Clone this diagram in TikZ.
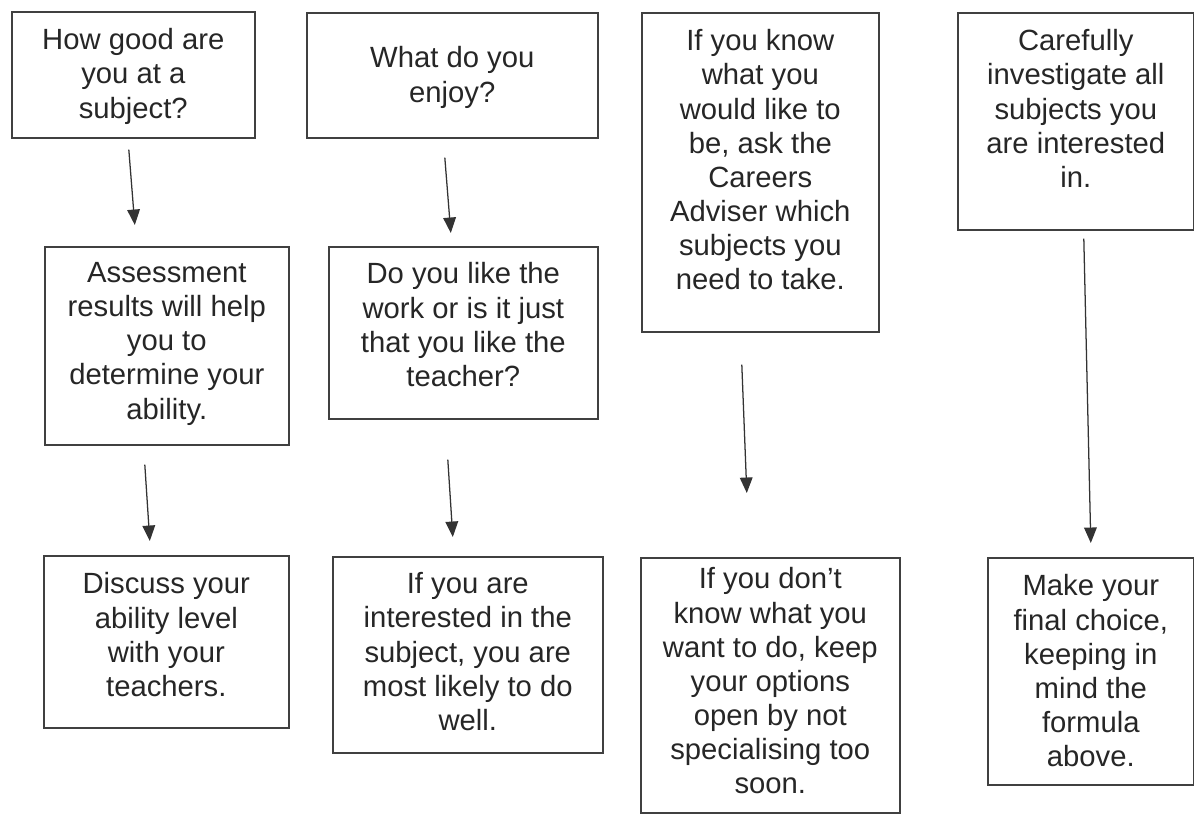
\documentclass[tikz,border=0pt]{standalone}
\usepackage{fontspec}
\setmainfont{Liberation Sans}
\usetikzlibrary{arrows.meta,calc}

\newdimen\pxu \pxu=0.7113pt
\newcommand{\cardfont}{\fontsize{20.8}{24.2}\selectfont}
% width, height, top gap, text (all in px)
\newcommand{\cardtext}[4]{\parbox[t][#2\pxu][t]{#1\pxu}{\cardfont\centering\vspace*{#3\pxu}#4}}

\tikzset{
  card/.style={draw=black!75, line width=1.1pt, anchor=north west, inner sep=0pt, text=black!85},
  flow/.style={-{Triangle[width=9pt,length=11pt]}, draw=black!80, line width=0.9pt},
}

\begin{document}
\begin{tikzpicture}[x=0.025cm, y=-0.025cm]
  \useasboundingbox (0,0) rectangle (1194,814);

  % top row
  \node[card] (howgood) at (11,11) {\cardtext{243}{126}{17}{How good are\\ you at a\\ subject?}};
  \node[card] (enjoy) at (306,12) {\cardtext{291}{125}{34}{What do you\\ enjoy?}};
  \node[card] (knowjob) at (641,12) {\cardtext{237}{319}{17}{If you know\\ what you\\ would like to\\ be, ask the\\ Careers\\ Adviser which\\ subjects you\\ need to take.}};
  \node[card] (investigate) at (957,12) {\cardtext{236}{217}{17}{Carefully\\ investigate all\\ subjects you\\ are interested\\ in.}};

  % middle row
  \node[card] (assess) at (44,246) {\cardtext{244}{198}{16}{Assessment\\ results will help\\ you to\\ determine your\\ ability.}};
  \node[card] (likework) at (328,246) {\cardtext{269}{172}{16}{Do you like the\\ work or is it just\\ that you like the\\ teacher?}};

  % bottom row
  \node[card] (discuss) at (43,555) {\cardtext{245}{172}{17}{Discuss your\\ ability level\\ with your\\ teachers.}};
  \node[card] (interested) at (332,556) {\cardtext{270}{196}{16}{If you are\\ interested in the\\ subject, you are\\ most likely to do\\ well.}};
  \node[card] (dontknow) at (640,557) {\cardtext{259}{255}{10}{If you don’t\\ know what you\\ want to do, keep\\ your options\\ open by not\\ specialising too\\ soon.}};
  \node[card] (choice) at (987,557) {\cardtext{206}{227}{17}{Make your\\ final choice,\\ keeping in\\ mind the\\ formula\\ above.}};

  % arrows
  \draw[flow] ($(howgood.south)+(-4.5,11)$) -- ($(assess.north)+(-32,-21)$);
  \draw[flow] ($(assess.south)+(-22,19)$) -- ($(discuss.north)+(-16.5,-14)$);
  \draw[flow] ($(enjoy.south)+(-7.5,19)$) -- ($(likework.north)+(-12.5,-13)$);
  \draw[flow] ($(likework.south)+(-15.5,40)$) -- ($(interested.north)+(-15,-19)$);
  \draw[flow] ($(knowjob.south)+(-18.5,32)$) -- ($(dontknow.north)+(-23.5,-64)$);
  \draw[flow] ($(investigate.south)+(8,8)$) -- ($(choice.north)+(0,-14)$);
\end{tikzpicture}
\end{document}
